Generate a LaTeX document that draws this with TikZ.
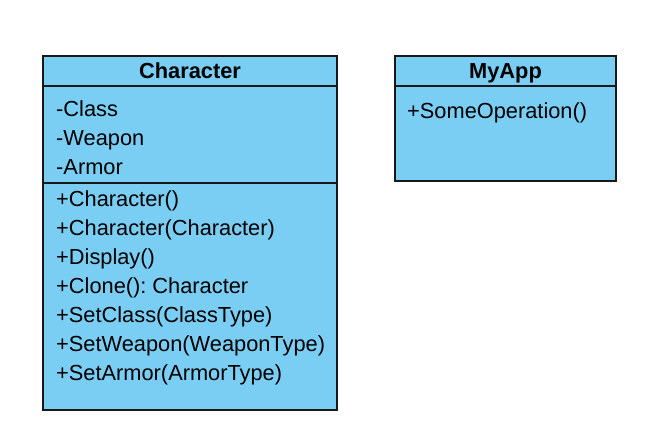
\documentclass[tikz,border=0pt]{standalone}
\usepackage{fontspec}
\setmainfont{Liberation Sans}
\usetikzlibrary{positioning}
\definecolor{umlblue}{RGB}{122,206,244}
\definecolor{umlline}{RGB}{24,24,24}
\frenchspacing

\begin{document}
\begin{tikzpicture}[x=1pt, y=-1pt,
        part/.style={rectangle, draw=umlline, line width=1.3pt, fill=umlblue, anchor=north west, inner sep=0pt, outer sep=0pt},
        title/.style={anchor=base, inner sep=0pt, font=\fontsize{21.8}{29}\selectfont\bfseries},
        member/.style={anchor=base west, inner sep=0pt, font=\fontsize{21.8}{29}\selectfont}]

    \useasboundingbox (0,0) rectangle (647,445);

    % Character class
    \node[part, minimum width=294, minimum height=30] (charHead) at (43,56) {};
    \node[part, minimum width=294, minimum height=97] (charAttr) at (charHead.south west) {};
    \node[part, minimum width=294, minimum height=227] (charOps) at (charAttr.south west) {};
    \node[title] (charName) at (190,78.8) {Character};
    \foreach \txt [count=\i] in {-Class,-Weapon,-Armor}
        \node[member] (attr\i) at (56,{116.2+29*(\i-1)}) {\txt};
    \foreach \txt [count=\i] in {+Character(),+Character(Character),+Display(),+Clone(): Character,+SetClass(ClassType),+SetWeapon(WeaponType),+SetArmor(ArmorType)}
        \node[member] (op\i) at (56,{206.2+29*(\i-1)}) {\txt};

    % MyApp class
    \node[part, minimum width=221, minimum height=30] (appHead) at (395,56) {};
    \node[part, minimum width=221, minimum height=95] (appOps) at (appHead.south west) {};
    \node[title] (appName) at (505.5,78.8) {MyApp};
    \node[member] (appOp1) at (407,118.5) {+SomeOperation()};

\end{tikzpicture}
\end{document}
